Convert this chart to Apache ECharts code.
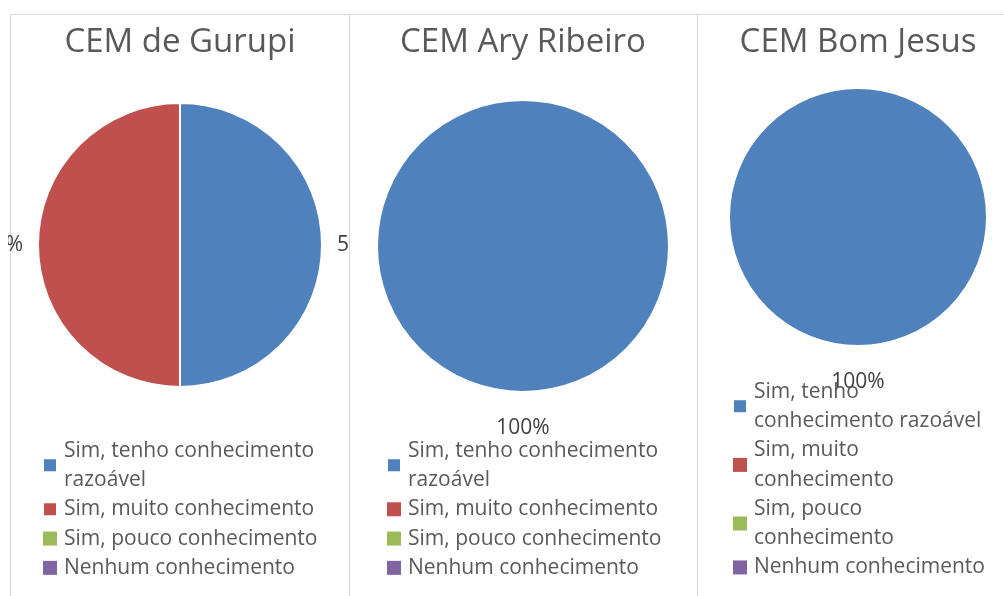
<!DOCTYPE html>
<html>
<head>
<meta charset="utf-8">
<script src="https://cdn.jsdelivr.net/npm/echarts@6/dist/echarts.min.js"></script>
<style>
  html, body { margin: 0; padding: 0; background: #fff; }
  .pane { position: absolute; top: 0; height: 596px; }
</style>
</head>
<body>
<div id="c1" class="pane" style="left:8px;width:341px"></div>
<div id="c2" class="pane" style="left:349px;width:348px"></div>
<div id="c3" class="pane" style="left:697px;width:307px"></div>
<script>
// dados
var categorias = ['Sim, tenho conhecimento razoável', 'Sim, muito conhecimento', 'Sim, pouco conhecimento', 'Nenhum conhecimento'];
var gurupi = [50, 50, 0, 0];
var aryRibeiro = [100, 0, 0, 0];
var bomJesus = [100, 0, 0, 0];
var titulos = ['CEM de Gurupi', 'CEM Ary Ribeiro', 'CEM Bom Jesus'];
var cores = ['#4F81BD', '#C0504D', '#9BBB59', '#8064A2'];

// quebras de linha da legenda em cada painel
var quebraLarga = {
    'Sim, tenho conhecimento razoável': 'Sim, tenho conhecimento\nrazoável'
};
var quebraEstreita = {
    'Sim, tenho conhecimento razoável': 'Sim, tenho\nconhecimento razoável',
    'Sim, muito conhecimento': 'Sim, muito\nconhecimento',
    'Sim, pouco conhecimento': 'Sim, pouco\nconhecimento'
};

var fonte = '"Open Sans", sans-serif';

function montarDados(valores) {
    return categorias.map(function (nome, i) {
        var v = valores[i];
        return {
            name: nome,
            value: v,
            label: { show: v > 0 },
            itemStyle: { borderWidth: v > 0 ? 2 : 0 }
        };
    });
}

function bordas(largura, esquerda) {
    return [
        { type: 'line', z: -1, shape: { x1: esquerda, y1: 14.5, x2: largura, y2: 14.5 }, style: { stroke: '#D9D9D9', lineWidth: 1 } },
        { type: 'line', z: -1, shape: { x1: esquerda + 0.5, y1: 14, x2: esquerda + 0.5, y2: 596 }, style: { stroke: '#D9D9D9', lineWidth: 1 } }
    ];
}

function initPizza(id, cfg) {
    var myChart = echarts.init(document.getElementById(id));
    var quebra = cfg.quebra;
    var option = {
        animation: false,
        color: cores,
        graphic: bordas(cfg.largura, cfg.borda),
        title: {
            text: cfg.titulo,
            left: cfg.cx - 5,
            textAlign: 'center',
            top: cfg.tituloTop,
            textStyle: { fontFamily: fonte, fontSize: 33, fontWeight: 'normal', color: '#595959' }
        },
        legend: {
            orient: 'vertical',
            left: cfg.legLeft,
            top: cfg.legTop,
            padding: 0,
            itemGap: 0,
            itemWidth: 14,
            itemHeight: 14,
            icon: 'rect',
            selectedMode: false,
            data: categorias,
            formatter: function (name) {
                return quebra[name] || name;
            },
            textStyle: { fontFamily: fonte, fontSize: 21, color: '#595959', lineHeight: 29.3, padding: [0, 0, 0, 2] }
        },
        series: [
            {
                type: 'pie',
                center: [cfg.cx, cfg.cy],
                radius: cfg.r,
                startAngle: 90,
                clockwise: true,
                avoidLabelOverlap: false,
                silent: true,
                itemStyle: { borderColor: '#ffffff' },
                label: {
                    position: 'outside',
                    formatter: '{d}%',
                    fontFamily: fonte,
                    fontSize: 21,
                    color: '#404040',
                    distanceToLabelLine: 5
                },
                labelLine: { show: false, length: cfg.l1, length2: 0 },
                labelLayout: cfg.centrar ? function (p) {
                    return { x: p.rect.x + p.rect.width / 2, align: 'center' };
                } : null,
                data: montarDados(cfg.valores)
            }
        ]
    };
    myChart.setOption(option);
}

initPizza('c1', { titulo: titulos[0], valores: gurupi, quebra: quebraLarga, largura: 341, borda: 2,
    cx: 172, cy: 245, r: 142, l1: 10, centrar: false, tituloTop: 21, legLeft: 34, legTop: 436 });
initPizza('c2', { titulo: titulos[1], valores: aryRibeiro, quebra: quebraLarga, largura: 348, borda: 0,
    cx: 174, cy: 246, r: 146, l1: 36, centrar: true, tituloTop: 21, legLeft: 37, legTop: 436 });
initPizza('c3', { titulo: titulos[2], valores: bomJesus, quebra: quebraEstreita, largura: 307, borda: 0,
    cx: 161, cy: 217, r: 129, l1: 36, centrar: true, tituloTop: 21, legLeft: 35, legTop: 377 });
</script>
</body>
</html>
